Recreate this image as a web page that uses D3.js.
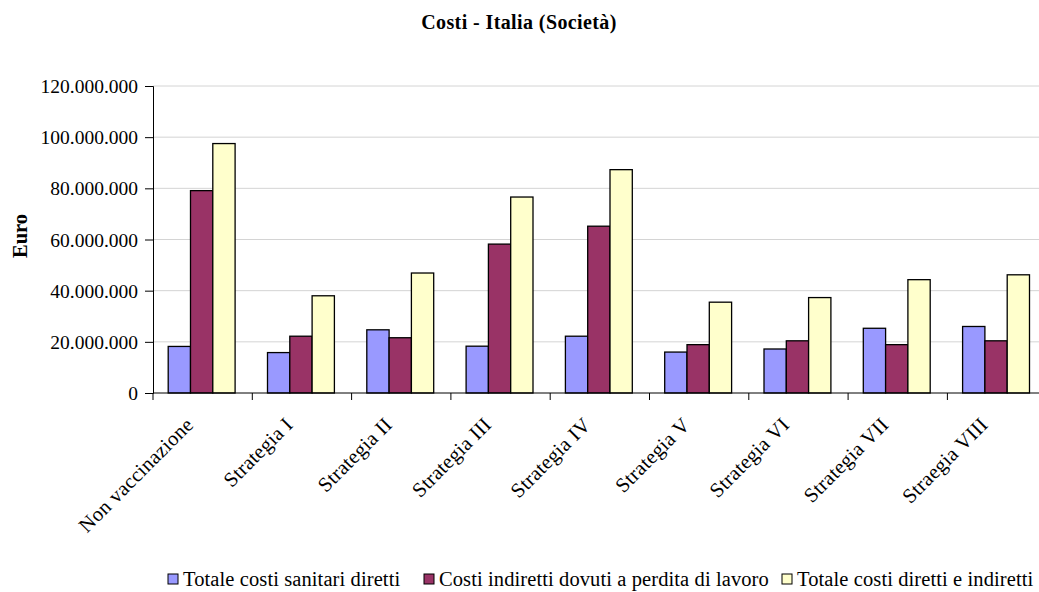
<!DOCTYPE html>
<html>
<head>
<meta charset="utf-8">
<script src="https://cdn.jsdelivr.net/npm/d3@7"></script>
<style>
  html, body { margin: 0; padding: 0; background: #fff; }
  svg { display: block; }
  svg text { font-family: "Liberation Serif", "Times New Roman", serif; fill: #000; }
</style>
</head>
<body>
<svg id="chart" width="1039" height="592"></svg>
<script>
// Cost categories (x axis)
const categories = ["Non vaccinazione", "Strategia I", "Strategia II", "Strategia III", "Strategia IV",
                    "Strategia V", "Strategia VI", "Strategia VII", "Straegia VIII"];
// Series names
const seriesNames = ["Totale costi sanitari diretti", "Costi indiretti dovuti a perdita di lavoro",
                     "Totale costi diretti e indiretti"];
// Series values (Euro)
const direttiSanitari = [18200000, 15800000, 24700000, 18300000, 22200000, 16000000, 17200000, 25300000, 26000000];
const indirettiLavoro = [79100000, 22200000, 21600000, 58200000, 65200000, 18900000, 20400000, 18900000, 20400000];
const totaleCosti     = [97500000, 38000000, 46900000, 76600000, 87300000, 35500000, 37300000, 44300000, 46200000];
// Y tick values
const yTicks = [0, 20000000, 40000000, 60000000, 80000000, 100000000, 120000000];
const seriesColors = ["#9999ff", "#993366", "#ffffcc"];

const series = [direttiSanitari, indirettiLavoro, totaleCosti];
const svg = d3.select("#chart");

const plotLeft = 153, plotTop = 86, plotBottom = 393;
const band = 99.3;
const plotRight = plotLeft + band * categories.length;

const x = d3.scaleBand().domain(categories).range([plotLeft, plotRight]).paddingInner(0).paddingOuter(0);
const barW = 22.3;
const groupW = barW * 3;
const y = d3.scaleLinear().domain([0, 120000000]).range([plotBottom, plotTop]);

const fmt = v => d3.format(",")(v).replace(/,/g, ".");

// Horizontal gridlines
svg.append("g")
  .selectAll("line")
  .data(yTicks.filter(d => d > 0))
  .join("line")
  .attr("x1", plotLeft).attr("x2", plotRight)
  .attr("y1", d => y(d)).attr("y2", d => y(d))
  .attr("stroke", "#d4d4d4").attr("stroke-width", 1);

// Bars
const groups = svg.append("g")
  .selectAll("g")
  .data(categories)
  .join("g")
  .attr("transform", d => `translate(${x(d) + (x.bandwidth() - groupW) / 2 - 1},0)`);

groups.selectAll("rect")
  .data((d, i) => series.map((s, k) => ({ k, v: s[i] })))
  .join("rect")
  .attr("x", d => d.k * barW)
  .attr("y", d => y(d.v))
  .attr("width", barW)
  .attr("height", d => plotBottom - y(d.v))
  .attr("fill", d => seriesColors[d.k])
  .attr("stroke", "#000")
  .attr("stroke-width", 1.3);

// Y axis
const yAxis = d3.axisLeft(y).tickValues(yTicks).tickFormat(fmt).tickSize(8).tickPadding(7);
const gy = svg.append("g").attr("transform", `translate(${plotLeft},0)`).call(yAxis);
gy.select(".domain").attr("stroke", "#000");
gy.selectAll(".tick line").attr("stroke", "#000");
gy.selectAll(".tick text").attr("font-size", 19.5).attr("dy", "0.34em");

// X axis (category boundaries as ticks)
const gx = svg.append("g").attr("transform", `translate(0,${plotBottom})`);
gx.append("line").attr("x1", plotLeft).attr("x2", plotRight).attr("stroke", "#000");
gx.selectAll("line.tk")
  .data(d3.range(categories.length + 1))
  .join("line").attr("class", "tk")
  .attr("x1", i => plotLeft + i * x.bandwidth()).attr("x2", i => plotLeft + i * x.bandwidth())
  .attr("y1", 0).attr("y2", 7)
  .attr("stroke", "#000");
gx.selectAll("text")
  .data(categories)
  .join("text")
  .attr("transform", d => `translate(${x(d) + x.bandwidth() / 2 - 8},${33}) rotate(-45)`)
  .attr("text-anchor", "end")
  .attr("font-size", 20.5)
  .attr("letter-spacing", 0.3)
  .text(d => d);

// Title
svg.append("text")
  .attr("x", 519).attr("y", 29)
  .attr("text-anchor", "middle")
  .attr("font-size", 20).attr("font-weight", "bold")
  .attr("letter-spacing", 0.4)
  .text("Costi - Italia (Società)");

// Y axis title
svg.append("text")
  .attr("transform", `translate(27,236) rotate(-90)`)
  .attr("text-anchor", "middle")
  .attr("font-size", 20.5).attr("font-weight", "bold")
  .text("Euro");

// Legend
const legendX = [168, 424, 782];
const lg = svg.append("g").selectAll("g")
  .data(seriesNames)
  .join("g")
  .attr("transform", (d, i) => `translate(${legendX[i]},580)`);
lg.append("rect")
  .attr("x", 0).attr("y", -6).attr("width", 10).attr("height", 10)
  .attr("fill", (d, i) => seriesColors[i]).attr("stroke", "#000").attr("stroke-width", 1);
lg.append("text")
  .attr("x", 15).attr("y", 6)
  .attr("font-size", 20.5)
  .attr("letter-spacing", 0.1)
  .text(d => d);
</script>
</body>
</html>
